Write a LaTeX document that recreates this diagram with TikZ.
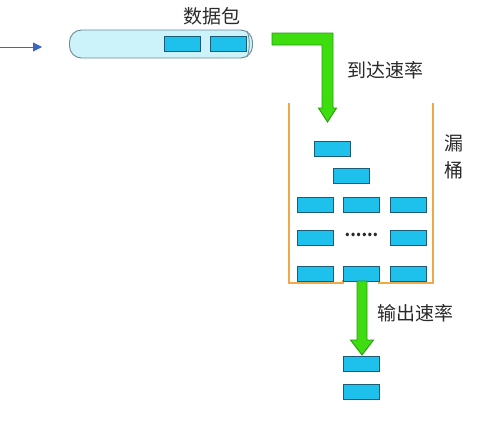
\documentclass[tikz,border=0pt]{standalone}
\usepackage{fontspec}
\newfontfamily\cjk{Noto Sans CJK SC}
\usetikzlibrary{arrows.meta}
\definecolor{pktfill}{HTML}{1EC0EC}
\definecolor{pktdraw}{HTML}{1A5C78}
\definecolor{tubefill}{HTML}{CCF3FA}
\definecolor{tubedraw}{HTML}{6E8A94}
\definecolor{grfill}{HTML}{3DDD10}
\definecolor{grdraw}{HTML}{2A9A10}
\definecolor{bucket}{HTML}{F0A848}
\definecolor{blarrow}{HTML}{3A66C0}
\definecolor{txt}{HTML}{2A2A2A}
\begin{document}
\begin{tikzpicture}[x=1pt,y=-1pt,
  pkt/.style={draw=pktdraw,fill=pktfill,line width=0.9pt,minimum width=36pt,minimum height=15pt,inner sep=0pt},
  lbl/.style={font=\cjk\fontsize{19}{21}\selectfont,text=txt,inner sep=0pt},
  garrow/.style={fill=grfill,draw=grdraw,line width=0.9pt,line join=miter},
  wall/.style={draw=bucket,line width=2.6pt}]
\fill[white] (0,0) rectangle (489,421);
\useasboundingbox (0,0) rectangle (489,421);
% incoming arrow
\coordinate (ain) at (0,47);
\coordinate (aout) at (42,47);
\draw[blarrow,line width=0.8pt,-{Triangle[length=9pt,width=9pt]}] (ain) -- (aout);
% tube
\node[draw=tubedraw,fill=tubefill,line width=0.9pt,rounded corners=12pt,minimum width=183pt,minimum height=28pt,inner sep=0pt] (tube) at (161,44) {};
\draw[tubedraw,line width=0.8pt] (247,31) .. controls (250,38) and (250,50) .. (247,57);
\node[pkt] (p1) at (182,44) {};
\node[pkt] (p2) at (228.5,44) {};
\node[lbl] (l1) at (212,16) {数据包};
% green input arrow
\draw[garrow] (272,33) -- (333,33) -- (333,108) -- (336.5,108) -- (327.5,122) -- (318.5,108) -- (322,108) -- (322,45) -- (272,45) -- cycle;
\node[lbl] (l2) at (385,70) {到达速率};
% bucket
\draw[wall] (289,103) -- (289,283) -- (343,283) -- (343,280);
\draw[wall] (433,103) -- (433,283) -- (379,283) -- (379,280);
\node[lbl,align=center,font=\cjk\fontsize{19}{27}\selectfont] (l3) at (454,157) {漏\\桶};
% packets in bucket
\node[pkt] (b1) at (332.5,148.5) {};
\node[pkt] (b2) at (351,175.5) {};
\node[pkt] (r31) at (315,205) {};
\node[pkt] (r32) at (361.5,205) {};
\node[pkt] (r33) at (408.5,205) {};
\node[pkt] (r41) at (315,237.5) {};
\node[lbl,font=\cjk\bfseries\fontsize{16}{16}\selectfont] (dots) at (361.5,235) {......};
\node[pkt] (r43) at (408.5,237.5) {};
\node[pkt] (r51) at (315,273.5) {};
\node[pkt] (r52) at (361.5,273.5) {};
\node[pkt] (r53) at (408.5,273.5) {};
% output arrow
\draw[garrow] (357,281) -- (367,281) -- (367,340) -- (373.5,340) -- (362,355) -- (350.5,340) -- (357,340) -- cycle;
\node[lbl] (l4) at (415,313) {输出速率};
\node[pkt] (o1) at (361.5,363.5) {};
\node[pkt] (o2) at (361.5,391.5) {};
\end{tikzpicture}
\end{document}
